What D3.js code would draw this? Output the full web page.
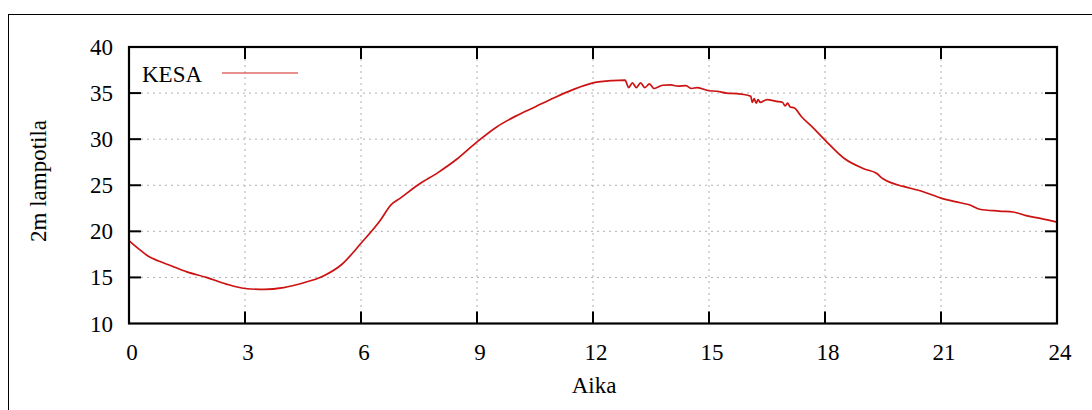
<!DOCTYPE html>
<html><head><meta charset="utf-8">
<script src="https://cdn.jsdelivr.net/npm/d3@7"></script>
<style>html,body{margin:0;padding:0;background:#fff;} svg{display:block;} text{font-family:"Liberation Serif","Times New Roman",Times,serif;}</style>
</head><body>
<svg id="c" width="1092" height="410"></svg>
<script>
const seriesName = "KESA";
const xLabel = "Aika";
const yLabel = "2m lampotila";
const xTicks = [0,3,6,9,12,15,18,21,24];
const yTicks = [10,15,20,25,30,35,40];
const hours = [0,0.25,0.5,0.75,1,1.5,2,2.5,3,3.5,4,4.5,5,5.5,6,6.5,6.77,7,7.5,8,8.5,9,9.5,10,10.5,11,11.5,12,12.5,12.83,
  12.92,13.02,13.12,13.23,13.34,13.46,13.58,13.8,14.0,14.2,14.4,14.55,14.7,15.0,15.2,15.45,15.7,15.9,16.08,
  16.12,16.17,16.22,16.27,16.32,16.5,16.75,16.9,16.97,17.03,17.1,17.2,17.4,17.7,18.0,18.5,19.0,19.33,19.5,19.76,20.0,20.54,21.0,21.5,21.75,22.0,22.5,22.87,23.2,23.57,24.0];
const temps = [19.0,18.1,17.3,16.8,16.4,15.6,15.0,14.3,13.8,13.7,13.9,14.4,15.1,16.4,18.7,21.2,22.85,23.55,25.1,26.4,27.9,29.7,31.3,32.5,33.5,34.5,35.4,36.1,36.35,36.4,
  35.6,36.1,35.6,36.1,35.6,36.0,35.5,35.85,35.9,35.75,35.8,35.5,35.6,35.25,35.2,35.0,34.95,34.85,34.65,
  34.0,34.4,33.9,34.3,34.0,34.3,34.1,34.0,33.6,33.9,33.5,33.4,32.4,31.2,29.9,27.9,26.8,26.3,25.7,25.2,24.9,24.3,23.6,23.1,22.85,22.4,22.2,22.1,21.7,21.4,21.0];

const svg = d3.select("#c");
const fs = 23;
const L = 129, R = 1057, T = 47, B = 323.5;
const x = d3.scaleLinear().domain([0,24]).range([L,R]);
const y = d3.scaleLinear().domain([10,40]).range([B,T]);

// outer frame
svg.append("rect").attr("x",8.5).attr("y",14.5).attr("width",1090).attr("height",400)
  .attr("fill","none").attr("stroke","#000").attr("stroke-width",1);

// grid
const g = svg.append("g");
g.selectAll(".gx").data(xTicks.slice(1,-1)).enter().append("line")
  .attr("x1",d=>x(d)).attr("x2",d=>x(d)).attr("y1",T).attr("y2",B)
  .attr("stroke","#b0b0b0").attr("stroke-width",1).attr("stroke-dasharray","2,4");
g.selectAll(".gy").data(yTicks.slice(1,-1)).enter().append("line")
  .attr("y1",d=>y(d)).attr("y2",d=>y(d)).attr("x1",L).attr("x2",R)
  .attr("stroke","#b0b0b0").attr("stroke-width",1).attr("stroke-dasharray","2,4");

// line
const line = d3.line().x((d,i)=>x(hours[i])).y(d=>y(d)).curve(d3.curveMonotoneX);
svg.append("path").attr("d",line(temps)).attr("fill","none")
  .attr("stroke","#cc1212").attr("stroke-width",1.7).attr("stroke-linejoin","round");

// axes: ticks inward
const ax = svg.append("g").attr("stroke","#000").attr("stroke-width",2);
xTicks.slice(1,-1).forEach(d=>{
  ax.append("line").attr("x1",x(d)).attr("x2",x(d)).attr("y1",B).attr("y2",B-12);
  ax.append("line").attr("x1",x(d)).attr("x2",x(d)).attr("y1",T).attr("y2",T+12);
});
yTicks.slice(1,-1).forEach(d=>{
  ax.append("line").attr("y1",y(d)).attr("y2",y(d)).attr("x1",L).attr("x2",L+12);
  ax.append("line").attr("y1",y(d)).attr("y2",y(d)).attr("x1",R).attr("x2",R-12);
});
svg.append("rect").attr("x",L).attr("y",T).attr("width",R-L).attr("height",B-T)
  .attr("fill","none").attr("stroke","#000").attr("stroke-width",2.2);

// tick labels
svg.selectAll(".xl").data(xTicks).enter().append("text")
  .attr("x",d=>x(d)+3).attr("y",360).attr("text-anchor","middle")
  .attr("font-size",fs).attr("fill","#000").text(d=>d);
svg.selectAll(".yl").data(yTicks).enter().append("text")
  .attr("x",113).attr("y",d=>y(d)+8).attr("text-anchor","end")
  .attr("font-size",fs).attr("fill","#000").text(d=>d);

// axis titles
svg.append("text").attr("x",594).attr("y",393).attr("text-anchor","middle")
  .attr("font-size",fs).text(xLabel);
svg.append("text").attr("transform","translate(46,181) rotate(-90)").attr("text-anchor","middle")
  .attr("font-size",fs).text(yLabel);

// legend
svg.append("text").attr("x",142).attr("y",82).attr("font-size",fs).text(seriesName);
svg.append("line").attr("x1",222).attr("x2",298).attr("y1",73).attr("y2",73)
  .attr("stroke","#d42020").attr("stroke-width",1.2);
</script>
</body></html>
